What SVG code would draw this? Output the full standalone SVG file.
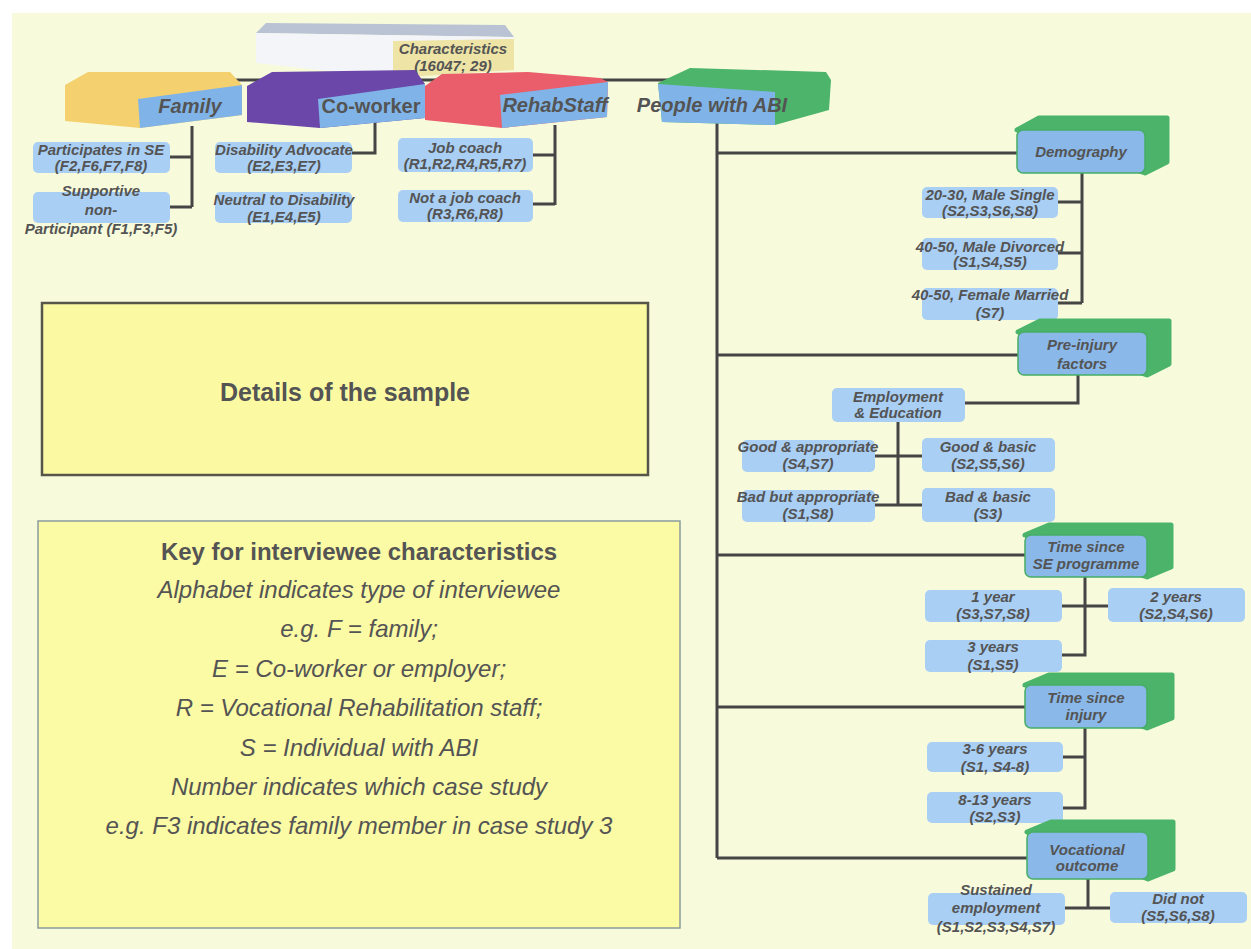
<svg xmlns="http://www.w3.org/2000/svg" width="1251" height="949" viewBox="0 0 1251 949">
<style>
  .t{font-family:"Liberation Sans",Arial,sans-serif;fill:#545454;text-anchor:middle}
  .s{font-size:15px;font-weight:bold;font-style:italic}
  .c{font-size:20px;font-weight:bold;font-style:italic}
  .leaf{fill:#a9cff4}
  .front{fill:#89b8e9;stroke:#46ad66;stroke-width:1.5}
  .ext{fill:#4bb46a;stroke:#4bb46a;stroke-width:5;stroke-linejoin:round}
  .catfront{fill:#80b4e8}
  .key{font-size:24px;font-style:italic}
  #connectors path{fill:none;stroke:#454545;stroke-width:3}
</style>

<!-- page -->
<rect width="1251" height="949" fill="#ffffff"/>
<rect x="12" y="13" width="1239" height="936" fill="#f7fbdc"/>

<!-- tree connectors -->
<g id="connectors">
  <path d="M453,76 V80 M220,80 H680"/>
  <path d="M192,126 V207 M170,157 H192 M170,207 H192"/>
  <path d="M375,122 V153 H352"/>
  <path d="M555,125 V205 M533,155 H555 M533,204 H555"/>
  <path d="M717,122 V858 M717,153 H1017 M717,355 H1018 M717,555 H1025 M717,707 H1025 M717,858 H1027"/>
  <path d="M1082,173 V303 M1058,202 H1082 M1058,253 H1082 M1058,303 H1082"/>
  <path d="M1078,375 V403 H965"/>
  <path d="M898,422 V505 M875,456 H922 M875,505 H922"/>
  <path d="M1085,577 V655 H1062 M1062,606 H1108"/>
  <path d="M1085,728 V808 H1063 M1063,757 H1085"/>
  <path d="M1088,879 V908 M1065,908 H1110"/>
</g>

<!-- root -->
<g id="characteristics">
  <polygon points="256,33 266,23 505,25 514,37" fill="#b9c3d3"/>
  <polygon points="256,33 514,37 514,68 395,78 256,63" fill="#f3f5f9"/>
  <polygon points="393,41 514,39 514,70 393,78" fill="#ede4a6"/>
  <text class="t s" x="453" y="54">Characteristics</text>
  <text class="t s" x="453" y="71">(16047; 29)</text>
</g>

<!-- interviewee groups -->
<g id="family">
  <polygon points="65,85 88,72 230,72 242,85 242,115 140,128 65,121" fill="#f4d06e"/>
  <polygon class="catfront" points="138,99 242,85 242,115 140,128"/>
  <text class="t c" x="190" y="113">Family</text>
</g>
<g id="coworker">
  <polygon points="247,86 272,72 415,70 425,84 425,118 320,128 247,122" fill="#6a47a8"/>
  <polygon class="catfront" points="318,99 425,84 425,118 320,128"/>
  <text class="t" x="371" y="113" style="font-size:20px;font-weight:bold">Co-worker</text>
</g>
<g id="rehabstaff">
  <polygon points="425,86 442,74 528,72 600,78 608,82 607,117 502,128 425,120" fill="#ea5d6b"/>
  <polygon class="catfront" points="500,95 608,82 607,117 502,128"/>
  <text class="t c" x="555" y="112">RehabStaff</text>
</g>
<g id="people-abi">
  <polygon points="658,83 690,68 826,72 831,80 829,110 775,125 662,122" fill="#4cb46b"/>
  <polygon class="catfront" points="658,84 775,92 775,125 662,122"/>
  <text class="t c" x="712" y="112">People with ABI</text>
</g>

<!-- family leaves -->
<g id="f-participates">
  <rect class="leaf" x="33" y="142" width="137" height="31" rx="5"/>
  <text class="t s" x="101" y="155">Participates in SE</text>
  <text class="t s" x="101" y="171">(F2,F6,F7,F8)</text>
</g>
<g id="f-supportive">
  <rect class="leaf" x="33" y="192" width="137" height="31" rx="5"/>
  <text class="t s" x="101" y="196">Supportive</text>
  <text class="t s" x="101" y="215">non-</text>
  <text class="t s" x="101" y="234">Participant (F1,F3,F5)</text>
</g>

<!-- co-worker leaves -->
<g id="e-advocate">
  <rect class="leaf" x="215" y="142" width="137" height="31" rx="5"/>
  <text class="t s" x="284" y="155">Disability Advocate</text>
  <text class="t s" x="284" y="171">(E2,E3,E7)</text>
</g>
<g id="e-neutral">
  <rect class="leaf" x="215" y="192" width="137" height="31" rx="5"/>
  <text class="t s" x="284" y="205">Neutral to Disability</text>
  <text class="t s" x="284" y="222">(E1,E4,E5)</text>
</g>

<!-- rehab staff leaves -->
<g id="r-jobcoach">
  <rect class="leaf" x="398" y="138" width="135" height="34" rx="5"/>
  <text class="t s" x="465" y="153">Job coach</text>
  <text class="t s" x="465" y="169">(R1,R2,R4,R5,R7)</text>
</g>
<g id="r-notjobcoach">
  <rect class="leaf" x="398" y="190" width="135" height="32" rx="5"/>
  <text class="t s" x="465" y="203">Not a job coach</text>
  <text class="t s" x="465" y="219">(R3,R6,R8)</text>
</g>

<!-- people with ABI: facets -->
<g id="demography">
  <polygon class="ext" points="1017,130 1039,118 1167,118 1167,162 1145,173"/>
  <rect class="front" x="1017" y="130" width="128" height="43" rx="6"/>
  <text class="t s" x="1081" y="157">Demography</text>
</g>
<g id="d-2030">
  <rect class="leaf" x="922" y="187" width="136" height="31" rx="5"/>
  <text class="t s" x="990" y="200">20-30, Male Single</text>
  <text class="t s" x="990" y="216">(S2,S3,S6,S8)</text>
</g>
<g id="d-4050m">
  <rect class="leaf" x="922" y="238" width="136" height="32" rx="5"/>
  <text class="t s" x="990" y="252">40-50, Male Divorced</text>
  <text class="t s" x="990" y="267">(S1,S4,S5)</text>
</g>
<g id="d-4050f">
  <rect class="leaf" x="922" y="288" width="136" height="32" rx="5"/>
  <text class="t s" x="990" y="300">40-50, Female Married</text>
  <text class="t s" x="990" y="318">(S7)</text>
</g>

<g id="preinjury">
  <polygon class="ext" points="1018,332 1040,321 1169,321 1169,364 1147,375"/>
  <rect class="front" x="1018" y="332" width="129" height="43" rx="6"/>
  <text class="t s" x="1082" y="350">Pre-injury</text>
  <text class="t s" x="1082" y="369">factors</text>
</g>
<g id="employment">
  <rect class="leaf" x="832" y="388" width="133" height="34" rx="5"/>
  <text class="t s" x="898" y="402">Employment</text>
  <text class="t s" x="898" y="418">&amp; Education</text>
</g>
<g id="good-appropriate">
  <rect class="leaf" x="742" y="440" width="133" height="32" rx="5"/>
  <text class="t s" x="808" y="452">Good &amp; appropriate</text>
  <text class="t s" x="808" y="469">(S4,S7)</text>
</g>
<g id="good-basic">
  <rect class="leaf" x="922" y="438" width="133" height="34" rx="5"/>
  <text class="t s" x="988" y="452">Good &amp; basic</text>
  <text class="t s" x="988" y="469">(S2,S5,S6)</text>
</g>
<g id="bad-appropriate">
  <rect class="leaf" x="742" y="490" width="133" height="32" rx="5"/>
  <text class="t s" x="808" y="502">Bad but appropriate</text>
  <text class="t s" x="808" y="519">(S1,S8)</text>
</g>
<g id="bad-basic">
  <rect class="leaf" x="922" y="488" width="133" height="34" rx="5"/>
  <text class="t s" x="988" y="502">Bad &amp; basic</text>
  <text class="t s" x="988" y="519">(S3)</text>
</g>

<g id="time-se">
  <polygon class="ext" points="1025,535 1049,525 1171,525 1171,567 1147,577"/>
  <rect class="front" x="1025" y="535" width="122" height="42" rx="6"/>
  <text class="t s" x="1086" y="552">Time since</text>
  <text class="t s" x="1086" y="569">SE programme</text>
</g>
<g id="se-1">
  <rect class="leaf" x="925" y="590" width="137" height="32" rx="5"/>
  <text class="t s" x="993" y="602">1 year</text>
  <text class="t s" x="993" y="619">(S3,S7,S8)</text>
</g>
<g id="se-2">
  <rect class="leaf" x="1108" y="588" width="137" height="34" rx="5"/>
  <text class="t s" x="1176" y="602">2 years</text>
  <text class="t s" x="1176" y="619">(S2,S4,S6)</text>
</g>
<g id="se-3">
  <rect class="leaf" x="925" y="640" width="137" height="32" rx="5"/>
  <text class="t s" x="993" y="652">3 years</text>
  <text class="t s" x="993" y="670">(S1,S5)</text>
</g>

<g id="time-injury">
  <polygon class="ext" points="1025,685 1049,675 1172,675 1172,718 1147,728"/>
  <rect class="front" x="1025" y="685" width="122" height="43" rx="6"/>
  <text class="t s" x="1086" y="703">Time since</text>
  <text class="t s" x="1086" y="720">injury</text>
</g>
<g id="inj-36">
  <rect class="leaf" x="927" y="742" width="136" height="30" rx="5"/>
  <text class="t s" x="995" y="754">3-6 years</text>
  <text class="t s" x="995" y="772">(S1, S4-8)</text>
</g>
<g id="inj-813">
  <rect class="leaf" x="927" y="792" width="136" height="31" rx="5"/>
  <text class="t s" x="995" y="805">8-13 years</text>
  <text class="t s" x="995" y="822">(S2,S3)</text>
</g>

<g id="vocational">
  <polygon class="ext" points="1027,832 1051,822 1173,822 1173,869 1148,879"/>
  <rect class="front" x="1027" y="832" width="121" height="47" rx="6"/>
  <text class="t s" x="1087" y="855">Vocational</text>
  <text class="t s" x="1087" y="871">outcome</text>
</g>
<g id="sustained">
  <rect class="leaf" x="928" y="893" width="137" height="32" rx="5"/>
  <text class="t s" x="996" y="895">Sustained</text>
  <text class="t s" x="996" y="913">employment</text>
  <text class="t s" x="996" y="932">(S1,S2,S3,S4,S7)</text>
</g>
<g id="did-not">
  <rect class="leaf" x="1110" y="892" width="137" height="31" rx="5"/>
  <text class="t s" x="1178" y="904">Did not</text>
  <text class="t s" x="1178" y="921">(S5,S6,S8)</text>
</g>

<!-- title panel -->
<g id="details">
  <rect x="42" y="303" width="606" height="172" fill="#fbfaa3" stroke="#57544a" stroke-width="2.5"/>
  <text class="t" x="345" y="401" style="font-size:25px;font-weight:bold">Details of the sample</text>
</g>

<!-- key panel -->
<g id="key">
  <rect x="38" y="521" width="642" height="407" fill="#fbfaa5" stroke="#8c9a9e" stroke-width="1.5"/>
  <text class="t" x="359" y="560" style="font-size:24px;font-weight:bold">Key for interviewee characteristics</text>
  <text class="t key" x="359" y="598">Alphabet indicates type of interviewee</text>
  <text class="t key" x="359" y="637">e.g. F = family;</text>
  <text class="t key" x="359" y="677">E = Co-worker or employer;</text>
  <text class="t key" x="359" y="716">R = Vocational Rehabilitation staff;</text>
  <text class="t key" x="359" y="756">S = Individual with ABI</text>
  <text class="t key" x="359" y="795">Number indicates which case study</text>
  <text class="t key" x="359" y="834">e.g. F3 indicates family member in case study 3</text>
</g>
</svg>
